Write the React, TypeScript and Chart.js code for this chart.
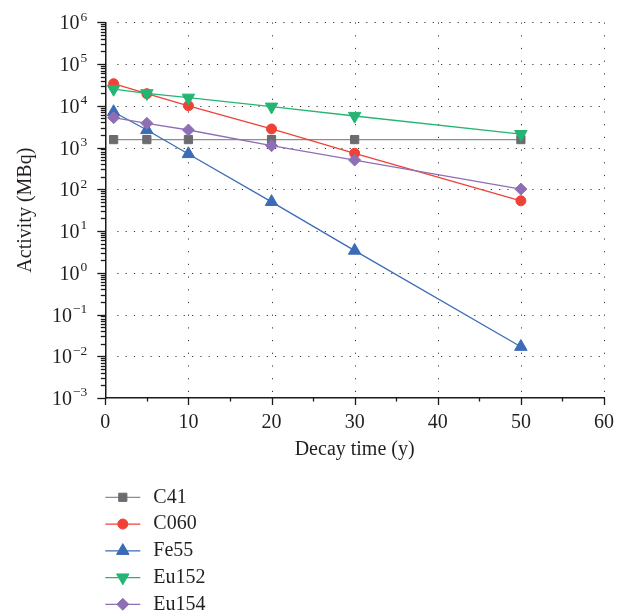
import React, { useEffect, useRef } from 'react';
import { Chart, registerables } from 'chart.js';
import { drawPoint } from 'chart.js/helpers';

Chart.register(...registerables);

// ---- data ----
const decayYears = [1, 5, 10, 20, 30, 50];
const seriesNames = ['C41', 'C060', 'Fe55', 'Eu152', 'Eu154'];
const c41Values = [1550, 1550, 1550, 1550, 1550, 1550];
const c060Values = [33800, 19500, 10000, 2780, 728, 53];
const fe55Values = [7100, 2630, 700, 50, 3.4, 0.0169];
const eu152Values = [25200, 19900, 15600, 9500, 5700, 2100];
const eu154Values = [5180, 3800, 2630, 1110, 500, 101];
const xTickValues = [0, 10, 20, 30, 40, 50, 60];
const yTickExponents = [-3, -2, -1, 0, 1, 2, 3, 4, 5, 6];
const xTitle = 'Decay time (y)';
const yTitle = 'Activity (MBq)';

// ---- styles ----
const lineColors = ['#8d8d8d', '#ef4136', '#3b6cb7', '#24b573', '#8e6fb5'];
const markerColors = ['#6b6c6f', '#ef4136', '#3b6cb7', '#24b573', '#8e6fb5'];
const pointStyles = ['rect', 'circle', 'triangle', 'triangle', 'rectRot'];
const pointRotations = [0, 0, 0, 180, 0];
const pointRadii = [5.8, 5, 7.2, 7.2, 6];
const SERIF = '"Liberation Serif", "DejaVu Serif", serif';
const TEXT = '#231f20';

const seriesValues = [c41Values, c060Values, fe55Values, eu152Values, eu154Values];

const decorPlugin = {
  id: 'decor',
  beforeDatasetsDraw(chart: any) {
    const { ctx, chartArea: a } = chart;
    const x = chart.scales.x;
    const y = chart.scales.y;
    ctx.save();
    ctx.strokeStyle = '#3a3a3a';
    ctx.lineWidth = 1;
    ctx.setLineDash([1.2, 7.1]);
    for (const e of yTickExponents) {
      if (e === yTickExponents[0]) continue;
      const py = Math.round(y.getPixelForValue(Math.pow(10, e))) + 0.5;
      ctx.beginPath();
      ctx.moveTo(a.left + 12, py);
      ctx.lineTo(a.right, py);
      ctx.stroke();
    }
    ctx.setLineDash([1.2, 11.5]);
    for (const v of xTickValues) {
      if (v === xTickValues[0]) continue;
      const px = Math.round(x.getPixelForValue(v)) + 0.5;
      ctx.beginPath();
      ctx.moveTo(px, a.bottom - 6);
      ctx.lineTo(px, a.top);
      ctx.stroke();
    }
    ctx.restore();
  },
  afterDraw(chart: any) {
    const { ctx, chartArea: a } = chart;
    const x = chart.scales.x;
    const y = chart.scales.y;
    ctx.save();
    ctx.strokeStyle = '#1a1a1a';
    ctx.lineWidth = 1.3;
    // y tick marks (major + minor)
    const e0 = yTickExponents[0];
    const e1 = yTickExponents[yTickExponents.length - 1];
    for (let e = e0; e <= e1; e++) {
      for (let m = 1; m <= 9; m++) {
        if (e === e1 && m > 1) break;
        const py = Math.round(y.getPixelForValue(m * Math.pow(10, e))) + 0.5;
        ctx.beginPath();
        ctx.moveTo(a.left, py);
        ctx.lineTo(a.left - (m === 1 ? 8 : 4.5), py);
        ctx.stroke();
      }
    }
    // x tick marks (major every 10, minor every 5)
    for (let v = xTickValues[0]; v <= xTickValues[xTickValues.length - 1]; v += 5) {
      const px = Math.round(x.getPixelForValue(v)) + 0.5;
      const major = v % 10 === 0;
      ctx.beginPath();
      ctx.moveTo(px, a.bottom);
      ctx.lineTo(px, a.bottom + (major ? 7 : 3.5));
      ctx.stroke();
    }
    // y tick labels 10^n
    ctx.fillStyle = TEXT;
    ctx.textBaseline = 'alphabetic';
    ctx.textAlign = 'right';
    for (const e of yTickExponents) {
      const py = y.getPixelForValue(Math.pow(10, e));
      const expStr = e < 0 ? '\u2212' + Math.abs(e) : String(e);
      ctx.font = `13.5px ${SERIF}`;
      const right = a.left - 18;
      ctx.fillText(expStr, right, py - 1.6);
      const w = ctx.measureText(expStr).width;
      ctx.font = `20px ${SERIF}`;
      ctx.fillText('10', right - w - 1, py + 7);
    }
    // x tick labels
    ctx.textAlign = 'center';
    ctx.font = `20px ${SERIF}`;
    for (const v of xTickValues) {
      const px = x.getPixelForValue(v);
      ctx.fillText(String(v), px, a.bottom + 30);
    }
    // legend
    const rowTop = 489.3;
    const rowGap = 26.75;
    const lx0 = a.left;
    const lx1 = a.left + 35;
    chart.data.datasets.forEach((ds: any, i: number) => {
      const ry = rowTop + i * rowGap;
      ctx.setLineDash([]);
      ctx.strokeStyle = lineColors[i];
      ctx.lineWidth = 1.3;
      ctx.beginPath();
      ctx.moveTo(lx0, ry);
      ctx.lineTo(lx1, ry);
      ctx.stroke();
      ctx.fillStyle = markerColors[i];
      ctx.strokeStyle = markerColors[i];
      ctx.lineWidth = 1;
      drawPoint(ctx, {
        pointStyle: pointStyles[i],
        rotation: pointRotations[i],
        radius: pointRadii[i],
        borderWidth: 1,
      } as any, (lx0 + lx1) / 2, ry);
      ctx.fillStyle = TEXT;
      ctx.textAlign = 'left';
      ctx.textBaseline = 'middle';
      ctx.font = `20px ${SERIF}`;
      ctx.fillText(ds.label, lx1 + 13, ry);
    });
    ctx.restore();
  },
};

export default function App() {
  const canvasRef = useRef<HTMLCanvasElement>(null);

  useEffect(() => {
    if (!canvasRef.current) return;
    const chart = new Chart(canvasRef.current, {
      type: 'line',
      data: {
        datasets: seriesNames.map((name, i) => ({
          label: name,
          data: decayYears.map((xv, j) => ({ x: xv, y: seriesValues[i][j] })),
          borderColor: lineColors[i],
          backgroundColor: markerColors[i],
          pointBackgroundColor: markerColors[i],
          pointBorderColor: markerColors[i],
          pointBorderWidth: 1,
          pointStyle: pointStyles[i] as any,
          pointRotation: pointRotations[i],
          pointRadius: pointRadii[i],
          pointHoverRadius: pointRadii[i],
          borderWidth: 1.3,
          tension: 0,
          fill: false,
          order: seriesNames.length - i,
          clip: false as any,
        })),
      },
      options: {
        animation: false,
        responsive: false,
        events: [],
        layout: { padding: { left: 1.5, top: 14.3, right: 11, bottom: 150 } },
        plugins: {
          legend: { display: false },
          tooltip: { enabled: false },
        },
        scales: {
          x: {
            type: 'linear',
            min: xTickValues[0],
            max: xTickValues[xTickValues.length - 1],
            grid: { display: false },
            border: { display: true, color: '#1a1a1a', width: 1.5 },
            ticks: { display: false },
            title: {
              display: true,
              text: xTitle,
              color: TEXT,
              font: { family: SERIF, size: 20 },
              padding: { top: 4, bottom: 4 },
            },
            afterFit: (s: any) => { s.height = 68; },
          },
          y: {
            type: 'logarithmic',
            min: Math.pow(10, yTickExponents[0]),
            max: Math.pow(10, yTickExponents[yTickExponents.length - 1]),
            grid: { display: false },
            border: { display: true, color: '#1a1a1a', width: 1.5 },
            ticks: { display: false },
            title: {
              display: true,
              text: yTitle,
              color: TEXT,
              font: { family: SERIF, size: 20 },
              padding: { top: 4, bottom: 4 },
            },
            afterFit: (s: any) => { s.width = 95.8; },
          },
        },
      },
      plugins: [decorPlugin],
    });
    return () => chart.destroy();
  }, []);

  return (
    <div style={{ width: 607, height: 608 }}>
      <canvas ref={canvasRef} width={607} height={608} style={{ display: 'block' }} />
    </div>
  );
}
